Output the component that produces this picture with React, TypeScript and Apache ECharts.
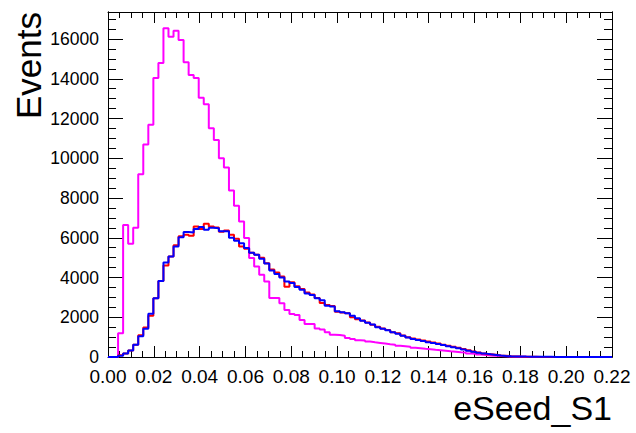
import React, { useEffect, useRef } from "react";
import * as echarts from "echarts";

const X_MIN = 0;
const X_MAX = 0.22;
const N_BINS = 100;
const Y_MAX = 17360;
const X_TICK_STEP = 0.02;
const Y_TICK_STEP = 2000;
const Y_MINOR_STEP = 500;

const magentaValues = [
  0, 0, 1190, 6640, 5700, 6500, 9200, 10690, 11690, 14040,
  14790, 16540, 16120, 16420, 15950, 14830, 14190, 14040, 13050, 12720,
  11510, 10920, 10000, 9530, 8380, 7610, 6820, 5985, 4980, 4560,
  4140, 3800, 2970, 2970, 2700, 2360, 2160, 2110, 1860, 1660,
  1660, 1440, 1380, 1240, 1125, 1110, 1075, 960, 910, 840,
  830, 775, 740, 710, 675, 640, 620, 570, 540, 510,
  470, 440, 410, 390, 360, 340, 320, 290, 270, 240,
  220, 180, 160, 120, 100, 80, 65, 45, 35, 25,
  18, 12, 8, 5, 0, 0, 0, 0, 0, 0,
  0, 0, 0, 0, 0, 0, 0, 0, 0, 0,
];

const redValues = [
  0, 0, 90, 180, 330, 620, 1090, 1490, 2080, 2950,
  3820, 4600, 5060, 5620, 6070, 6150, 6100, 6570, 6440, 6700,
  6570, 6520, 6300, 6360, 6150, 5950, 5560, 5450, 5250, 5150,
  5000, 4720, 4400, 4250, 4050, 3540, 3760, 3560, 3420, 3250,
  3150, 2970, 2720, 2620, 2560, 2280, 2240, 2200, 2000, 1900,
  1840, 1740, 1620, 1520, 1430, 1360, 1250, 1190, 1080, 990,
  930, 880, 830, 780, 730, 680, 620, 570, 510, 460,
  400, 340, 280, 230, 180, 140, 110, 80, 60, 40,
  30, 20, 15, 10, 8, 5, 0, 0, 0, 0,
  0, 0, 0, 0, 0, 0, 0, 0, 0, 0,
];

const blueValues = [
  0, 0, 60, 170, 330, 620, 1040, 1420, 2180, 2950,
  3820, 4760, 5060, 5560, 6030, 6290, 6260, 6440, 6540, 6400,
  6500, 6480, 6330, 6330, 6000, 5850, 5730, 5480, 5250, 5150,
  4950, 4700, 4350, 4180, 4000, 3800, 3720, 3520, 3380, 3200,
  3120, 2950, 2850, 2580, 2540, 2300, 2250, 2200, 2080, 1950,
  1820, 1720, 1640, 1500, 1420, 1340, 1240, 1170, 1070, 980,
  910, 850, 800, 740, 700, 650, 610, 540, 490, 440,
  380, 320, 260, 210, 170, 135, 105, 75, 55, 40,
  30, 25, 20, 18, 15, 12, 10, 8, 5, 0,
  0, 0, 0, 0, 0, 0, 0, 0, 0, 0,
];

const X_TITLE = "eSeed_S1";
const Y_TITLE = "Events";

const FONT = "'Liberation Sans', Arial, Helvetica, sans-serif";

function histData(values: number[]): [number, number][] {
  const bw = (X_MAX - X_MIN) / N_BINS;
  const pts: [number, number][] = values.map((v, k) => [X_MIN + k * bw, v]);
  pts.push([X_MAX, values[values.length - 1]]);
  return pts;
}

export default function App() {
  const ref = useRef<HTMLDivElement>(null);

  useEffect(() => {
    if (!ref.current) return;
    const chart = echarts.init(ref.current, undefined, { renderer: "svg" });

    const black = "#000000";
    const xAxisBase = {
      type: "value" as const,
      min: X_MIN,
      max: X_MAX,
      interval: X_TICK_STEP,
      axisLine: { show: true, onZero: false, lineStyle: { color: black, width: 1 } },
      axisTick: { show: true, inside: true, length: 11, lineStyle: { color: black, width: 1 } },
      minorTick: { show: true, splitNumber: 4, length: 6, lineStyle: { color: black, width: 1 } },
      splitLine: { show: false },
      minorSplitLine: { show: false },
    };
    const yAxisBase = (interval: number, tickLen: number, position: "left" | "right", labels: boolean) => ({
      type: "value" as const,
      position,
      min: 0,
      max: Y_MAX,
      interval,
      axisLine: { show: true, onZero: false, lineStyle: { color: black, width: 1 } },
      axisTick: { show: true, inside: true, length: tickLen, lineStyle: { color: black, width: 1 } },
      splitLine: { show: false },
      axisLabel: labels
        ? {
            show: true,
            showMaxLabel: false,
            color: black,
            fontSize: 17.5,
            lineHeight: 16,
            fontFamily: FONT,
            margin: 9,
            formatter: (v: number) => String(Math.round(v)),
          }
        : { show: false },
    });

    const lineSeries = (name: string, values: number[], color: string) => ({
      name,
      type: "line" as const,
      step: "end" as const,
      data: histData(values),
      showSymbol: false,
      symbol: "none",
      xAxisIndex: 0,
      yAxisIndex: 0,
      lineStyle: { color, width: 2 },
      itemStyle: { color },
      silent: true,
    });

    chart.setOption({
      animation: false,
      backgroundColor: "#ffffff",
      grid: { left: 108, right: 24, top: 12, bottom: 76, containLabel: false, outerBoundsMode: "none" },
      xAxis: [
        {
          ...xAxisBase,
          position: "bottom",
          axisLabel: {
            show: true,
            color: black,
            fontSize: 19,
            lineHeight: 18,
            fontFamily: FONT,
            margin: 10,
            formatter: (v: number) => v.toFixed(2),
          },
        },
        { ...xAxisBase, position: "top", axisLabel: { show: false } },
      ],
      yAxis: [
        yAxisBase(Y_TICK_STEP, 15, "left", true),
        yAxisBase(Y_MINOR_STEP, 8, "left", false),
        yAxisBase(Y_TICK_STEP, 15, "right", false),
        yAxisBase(Y_MINOR_STEP, 8, "right", false),
      ],
      series: [
        lineSeries("magenta", magentaValues, "#ff00ff"),
        lineSeries("red", redValues, "#ff0000"),
        lineSeries("blue", blueValues, "#0000ff"),
      ],
      graphic: [
        {
          type: "text",
          x: 28,
          y: 12,
          rotation: Math.PI / 2,
          style: {
            text: Y_TITLE,
            fill: black,
            fontSize: 35,
            fontFamily: FONT,
            align: "right",
            verticalAlign: "middle",
          },
        },
        {
          type: "text",
          x: 612,
          y: 408,
          style: {
            text: X_TITLE,
            fill: black,
            fontSize: 34,
            fontFamily: FONT,
            align: "right",
            verticalAlign: "middle",
          },
        },
      ],
    });

    return () => chart.dispose();
  }, []);

  return (
    <div
      ref={ref}
      style={{ position: "fixed", left: 0, top: 0, width: 636, height: 433, background: "#ffffff" }}
    />
  );
}
